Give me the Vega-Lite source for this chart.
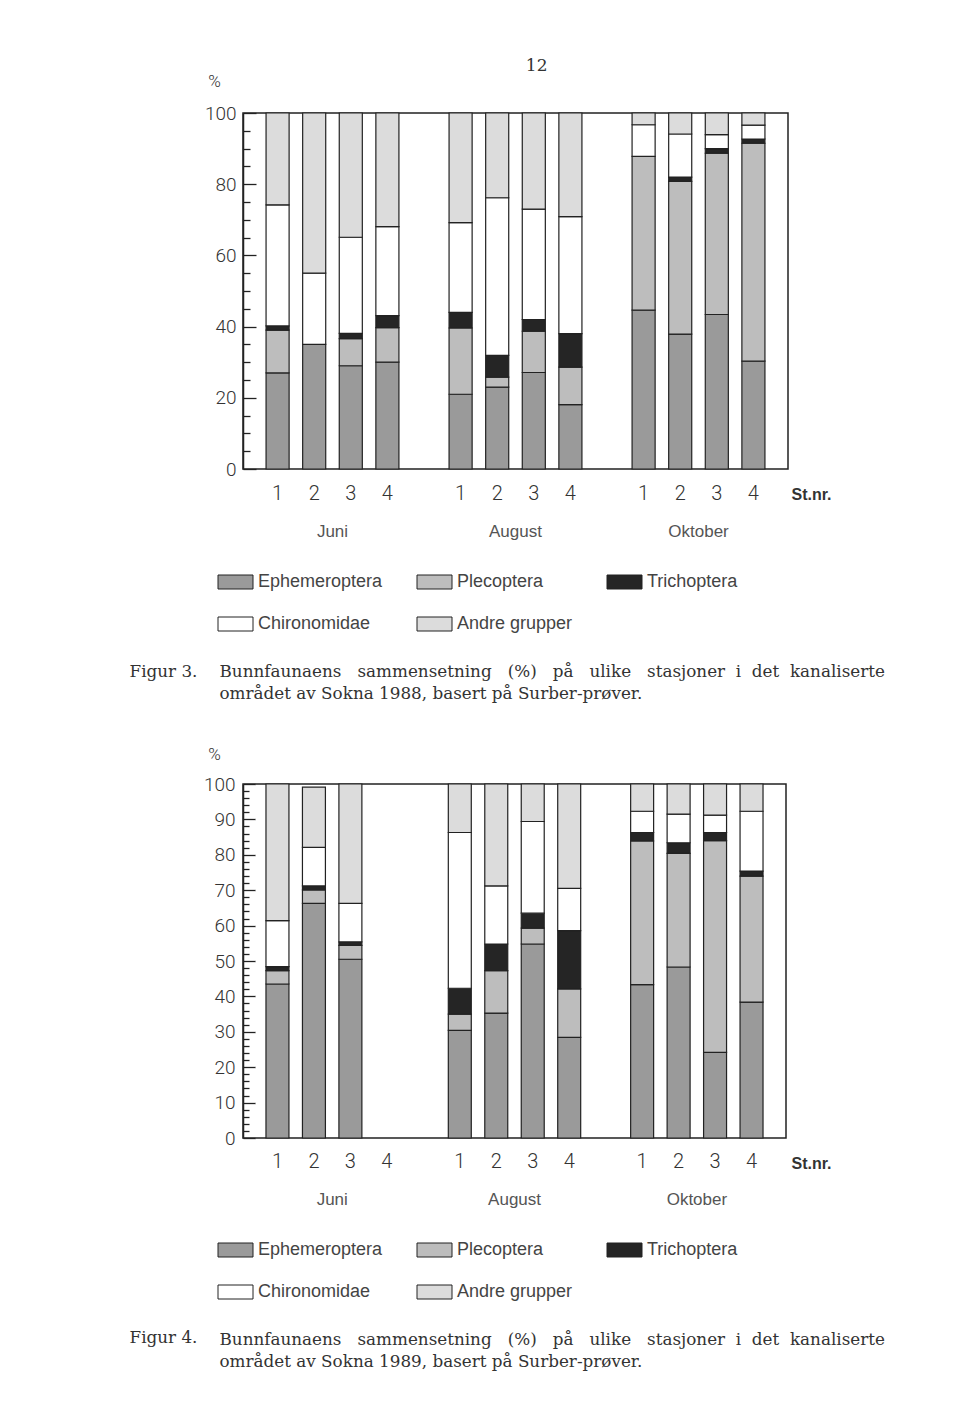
{
  "$schema": "https://vega.github.io/schema/vega-lite/v6.json",
  "background": "white",
  "padding": {"left": 128, "top": 57, "right": 10, "bottom": 10},
  "title": {"text": "12", "font": "DejaVu Serif", "fontSize": 17, "fontWeight": "normal", "color": "#333", "anchor": "middle", "dx": 30, "dy": 4, "offset": 0},
  "spacing": 41,
  "resolve": {"scale": {"color": "independent"}, "legend": {"color": "independent"}},
  "config": {
    "font": "Liberation Sans",
    "view": {"stroke": "#222", "strokeWidth": 1.5},
    "axis": {"grid": false}
  },
  "datasets": {
    "fig3": [
      {"slot": "J1", "Ephemeroptera": 27, "Plecoptera": 12, "Trichoptera": 1.2, "Chironomidae": 34, "Andre grupper": 25.8},
      {"slot": "J2", "Ephemeroptera": 35, "Plecoptera": 0, "Trichoptera": 0, "Chironomidae": 20, "Andre grupper": 45},
      {"slot": "J3", "Ephemeroptera": 29, "Plecoptera": 7.6, "Trichoptera": 1.5, "Chironomidae": 27, "Andre grupper": 34.9},
      {"slot": "J4", "Ephemeroptera": 30, "Plecoptera": 9.7, "Trichoptera": 3.4, "Chironomidae": 25, "Andre grupper": 31.9},
      {"slot": "A1", "Ephemeroptera": 21, "Plecoptera": 18.6, "Trichoptera": 4.4, "Chironomidae": 25.2, "Andre grupper": 30.8},
      {"slot": "A2", "Ephemeroptera": 23, "Plecoptera": 2.8, "Trichoptera": 6.1, "Chironomidae": 44.3, "Andre grupper": 23.8},
      {"slot": "A3", "Ephemeroptera": 27.1, "Plecoptera": 11.6, "Trichoptera": 3.3, "Chironomidae": 31, "Andre grupper": 27},
      {"slot": "A4", "Ephemeroptera": 18.1, "Plecoptera": 10.5, "Trichoptera": 9.4, "Chironomidae": 32.9, "Andre grupper": 29.1},
      {"slot": "O1", "Ephemeroptera": 44.6, "Plecoptera": 43.2, "Trichoptera": 0, "Chironomidae": 8.9, "Andre grupper": 3.3},
      {"slot": "O2", "Ephemeroptera": 37.9, "Plecoptera": 42.9, "Trichoptera": 1.2, "Chironomidae": 12.1, "Andre grupper": 5.9},
      {"slot": "O3", "Ephemeroptera": 43.4, "Plecoptera": 45.3, "Trichoptera": 1.3, "Chironomidae": 3.9, "Andre grupper": 6.1},
      {"slot": "O4", "Ephemeroptera": 30.3, "Plecoptera": 61.2, "Trichoptera": 1.2, "Chironomidae": 3.9, "Andre grupper": 3.4}
    ],
    "fig4": [
      {"slot": "J1", "Ephemeroptera": 43.5, "Plecoptera": 3.8, "Trichoptera": 1.1, "Chironomidae": 13, "Andre grupper": 38.6},
      {"slot": "J2", "Ephemeroptera": 66.3, "Plecoptera": 3.8, "Trichoptera": 1.1, "Chironomidae": 10.9, "Andre grupper": 17},
      {"slot": "J3", "Ephemeroptera": 50.5, "Plecoptera": 3.9, "Trichoptera": 1.0, "Chironomidae": 10.9, "Andre grupper": 33.7},
      {"slot": "A1", "Ephemeroptera": 30.4, "Plecoptera": 4.6, "Trichoptera": 7.3, "Chironomidae": 44, "Andre grupper": 13.7},
      {"slot": "A2", "Ephemeroptera": 35.3, "Plecoptera": 12, "Trichoptera": 7.5, "Chironomidae": 16.4, "Andre grupper": 28.8},
      {"slot": "A3", "Ephemeroptera": 54.8, "Plecoptera": 4.5, "Trichoptera": 4.2, "Chironomidae": 25.9, "Andre grupper": 10.6},
      {"slot": "A4", "Ephemeroptera": 28.4, "Plecoptera": 13.7, "Trichoptera": 16.5, "Chironomidae": 11.9, "Andre grupper": 29.5},
      {"slot": "O1", "Ephemeroptera": 43.3, "Plecoptera": 40.6, "Trichoptera": 2.4, "Chironomidae": 6, "Andre grupper": 7.7},
      {"slot": "O2", "Ephemeroptera": 48.3, "Plecoptera": 32.1, "Trichoptera": 3, "Chironomidae": 8.1, "Andre grupper": 8.5},
      {"slot": "O3", "Ephemeroptera": 24.2, "Plecoptera": 59.8, "Trichoptera": 2.3, "Chironomidae": 4.9, "Andre grupper": 8.8},
      {"slot": "O4", "Ephemeroptera": 38.4, "Plecoptera": 35.6, "Trichoptera": 1.4, "Chironomidae": 16.9, "Andre grupper": 7.7}
    ]
  },
  "vconcat": [
    {
      "width": 545,
      "height": 356,
      "data": {"name": "fig3"},
      "transform": [
        {"fold": ["Ephemeroptera", "Plecoptera", "Trichoptera", "Chironomidae", "Andre grupper"], "as": ["group", "value"]},
        {"filter": "datum.value > 0"},
        {"calculate": "indexof(['Ephemeroptera','Plecoptera','Trichoptera','Chironomidae','Andre grupper'], datum.group)", "as": "ord"}
      ],
      "resolve": {"axis": {"x": "independent", "y": "independent"}},
      "layer": [
        {
          "mark": {"type": "bar", "stroke": "#222", "strokeWidth": 1.2},
          "encoding": {
            "x": {
              "field": "slot", "type": "nominal",
              "scale": {"domain": ["J1","J2","J3","J4","g1","A1","A2","A3","A4","g2","O1","O2","O3","O4"], "paddingInner": 0.37, "paddingOuter": 0.63},
              "axis": {
                "orient": "bottom", "domain": false, "ticks": false, "labelAngle": 0,
                "labelExpr": "(datum.value == 'g1' || datum.value == 'g2') ? '' : substring(datum.value, 1)",
                "labelFont": "Roboto", "labelFontWeight": 300, "labelFontSize": 20, "labelColor": "#333",
                "labelPadding": 30, "labelBaseline": "alphabetic",
                "title": "St.nr.", "titleX": 548, "titleY": 30, "titleAlign": "left", "titleBaseline": "alphabetic",
                "titleFont": "Liberation Sans", "titleFontSize": 16, "titleFontWeight": "bold", "titleColor": "#333"
              }
            },
            "y": {
              "field": "value", "type": "quantitative", "stack": "zero",
              "scale": {"domain": [0, 100], "nice": false},
              "axis": {
                "orient": "left",
                "values": [0,5,10,15,20,25,30,35,40,45,50,55,60,65,70,75,80,85,90,95,100],
                "labelExpr": "datum.value % 20 === 0 ? datum.label : ''",
                "labelOverlap": false, "labelFlush": false,
                "tickSize": {"condition": {"test": "datum.value % 20 === 0", "value": -13}, "value": -7},
                "tickColor": "#222", "tickWidth": 1.3, "domainColor": "#222", "domainWidth": 1.5,
                "labelFont": "Roboto", "labelFontWeight": 300, "labelFontSize": 19, "labelColor": "#333",
                "labelPadding": 20,
                "title": "%", "titleAngle": 0, "titleX": -29, "titleY": -27, "titleAlign": "center", "titleBaseline": "alphabetic",
                "titleFont": "Roboto", "titleFontWeight": 300, "titleFontSize": 17, "titleColor": "#333"
              }
            },
            "color": {
              "field": "group", "type": "nominal",
              "scale": {"domain": ["Ephemeroptera", "Plecoptera", "Trichoptera", "Chironomidae", "Andre grupper"], "range": ["#9a9a9a", "#bdbdbd", "#252525", "#ffffff", "#dcdcdc"]},
              "legend": {
                "orient": "none", "legendX": -27, "legendY": 460, "columns": 3, "direction": "horizontal", "columnPadding": 32, "rowPadding": 24,
                "title": null, "symbolType": "M-1,-1H4V1H-1Z", "symbolSize": 196,
                "symbolStrokeColor": "#222", "symbolStrokeWidth": 1,
                "labelFont": "Liberation Sans", "labelFontSize": 18, "labelColor": "#444", "labelOffset": 24, "labelLimit": 300
              }
            },
            "order": {"field": "ord", "type": "quantitative"}
          }
        },
        {
          "mark": {"type": "point", "opacity": 0},
          "encoding": {
            "x": {
              "field": "slot", "type": "nominal",
              "axis": {
                "orient": "bottom", "domain": false, "ticks": false, "labelAngle": 0,
                "labelExpr": "datum.value == 'J2' ? 'Juni' : datum.value == 'A2' ? 'August' : datum.value == 'O2' ? 'Oktober' : ''",
                "labelOffset": 18.3, "labelPadding": 67, "labelBaseline": "alphabetic",
                "labelFont": "Liberation Sans", "labelFontSize": 17, "labelColor": "#555",
                "title": "Figur 3.", "titleX": -114, "titleY": 207, "titleAlign": "left", "titleBaseline": "alphabetic",
                "titleFont": "DejaVu Serif", "titleFontSize": 16.8, "titleFontWeight": "normal", "titleColor": "#333"
              }
            },
            "y": {
              "field": "value", "type": "quantitative",
              "scale": {"domain": [0, 100], "nice": false},
              "axis": {
                "orient": "left", "domain": false, "ticks": false, "labels": false,
                "title": ["Bunnfaunaens \u00a0\u00a0sammensetning \u00a0\u00a0(%) \u00a0\u00a0på \u00a0\u00a0ulike \u00a0\u00a0stasjoner \u00a0i \u00a0det \u00a0kanaliserte", "området av Sokna 1988, basert på Surber-prøver."],
                "titleAngle": 0, "titleX": -24, "titleY": 563, "titleAlign": "left", "titleBaseline": "alphabetic",
                "titleFont": "DejaVu Serif", "titleFontSize": 16.8, "titleFontWeight": "normal", "titleColor": "#333", "titleLineHeight": 22
              }
            }
          }
        }
      ]
    },
    {
      "width": 543,
      "height": 354,
      "data": {"name": "fig4"},
      "transform": [
        {"fold": ["Ephemeroptera", "Plecoptera", "Trichoptera", "Chironomidae", "Andre grupper"], "as": ["group", "value"]},
        {"filter": "datum.value > 0"},
        {"calculate": "indexof(['Ephemeroptera','Plecoptera','Trichoptera','Chironomidae','Andre grupper'], datum.group)", "as": "ord"}
      ],
      "resolve": {"axis": {"x": "independent", "y": "independent"}},
      "layer": [
        {
          "mark": {"type": "bar", "stroke": "#222", "strokeWidth": 1.2},
          "encoding": {
            "x": {
              "field": "slot", "type": "nominal",
              "scale": {"domain": ["J1","J2","J3","J4","g1","A1","A2","A3","A4","g2","O1","O2","O3","O4"], "paddingInner": 0.37, "paddingOuter": 0.63},
              "axis": {
                "orient": "bottom", "domain": false, "ticks": false, "labelAngle": 0,
                "labelExpr": "(datum.value == 'g1' || datum.value == 'g2') ? '' : substring(datum.value, 1)",
                "labelFont": "Roboto", "labelFontWeight": 300, "labelFontSize": 20, "labelColor": "#333",
                "labelPadding": 29, "labelBaseline": "alphabetic",
                "title": "St.nr.", "titleX": 548, "titleY": 30, "titleAlign": "left", "titleBaseline": "alphabetic",
                "titleFont": "Liberation Sans", "titleFontSize": 16, "titleFontWeight": "bold", "titleColor": "#333"
              }
            },
            "y": {
              "field": "value", "type": "quantitative", "stack": "zero",
              "scale": {"domain": [0, 100], "nice": false},
              "axis": {
                "orient": "left",
                "values": [0,2,4,6,8,10,12,14,16,18,20,22,24,26,28,30,32,34,36,38,40,42,44,46,48,50,52,54,56,58,60,62,64,66,68,70,72,74,76,78,80,82,84,86,88,90,92,94,96,98,100],
                "labelExpr": "datum.value % 10 === 0 ? datum.label : ''",
                "labelOverlap": false, "labelFlush": false,
                "tickSize": {"condition": {"test": "datum.value % 10 === 0", "value": -12}, "value": -6},
                "tickColor": "#222", "tickWidth": 1.3, "domainColor": "#222", "domainWidth": 1.5,
                "labelFont": "Roboto", "labelFontWeight": 300, "labelFontSize": 19, "labelColor": "#333",
                "labelPadding": 20,
                "title": "%", "titleAngle": 0, "titleX": -29, "titleY": -25, "titleAlign": "center", "titleBaseline": "alphabetic",
                "titleFont": "Roboto", "titleFontWeight": 300, "titleFontSize": 17, "titleColor": "#333"
              }
            },
            "color": {
              "field": "group", "type": "nominal",
              "scale": {"domain": ["Ephemeroptera", "Plecoptera", "Trichoptera", "Chironomidae", "Andre grupper"], "range": ["#9a9a9a", "#bdbdbd", "#252525", "#ffffff", "#dcdcdc"]},
              "legend": {
                "orient": "none", "legendX": -27, "legendY": 457, "columns": 3, "direction": "horizontal", "columnPadding": 32, "rowPadding": 24,
                "title": null, "symbolType": "M-1,-1H4V1H-1Z", "symbolSize": 196,
                "symbolStrokeColor": "#222", "symbolStrokeWidth": 1,
                "labelFont": "Liberation Sans", "labelFontSize": 18, "labelColor": "#444", "labelOffset": 24, "labelLimit": 300
              }
            },
            "order": {"field": "ord", "type": "quantitative"}
          }
        },
        {
          "mark": {"type": "point", "opacity": 0},
          "encoding": {
            "x": {
              "field": "slot", "type": "nominal",
              "axis": {
                "orient": "bottom", "domain": false, "ticks": false, "labelAngle": 0,
                "labelExpr": "datum.value == 'J2' ? 'Juni' : datum.value == 'A2' ? 'August' : datum.value == 'O2' ? 'Oktober' : ''",
                "labelOffset": 18.3, "labelPadding": 66, "labelBaseline": "alphabetic",
                "labelFont": "Liberation Sans", "labelFontSize": 17, "labelColor": "#555",
                "title": "Figur 4.", "titleX": -114, "titleY": 204, "titleAlign": "left", "titleBaseline": "alphabetic",
                "titleFont": "DejaVu Serif", "titleFontSize": 16.8, "titleFontWeight": "normal", "titleColor": "#333"
              }
            },
            "y": {
              "field": "value", "type": "quantitative",
              "scale": {"domain": [0, 100], "nice": false},
              "axis": {
                "orient": "left", "domain": false, "ticks": false, "labels": false,
                "title": ["Bunnfaunaens \u00a0\u00a0sammensetning \u00a0\u00a0(%) \u00a0\u00a0på \u00a0\u00a0ulike \u00a0\u00a0stasjoner \u00a0i \u00a0det \u00a0kanaliserte", "området av Sokna 1989, basert på Surber-prøver."],
                "titleAngle": 0, "titleX": -24, "titleY": 560, "titleAlign": "left", "titleBaseline": "alphabetic",
                "titleFont": "DejaVu Serif", "titleFontSize": 16.8, "titleFontWeight": "normal", "titleColor": "#333", "titleLineHeight": 22
              }
            }
          }
        }
      ]
    }
  ]
}
